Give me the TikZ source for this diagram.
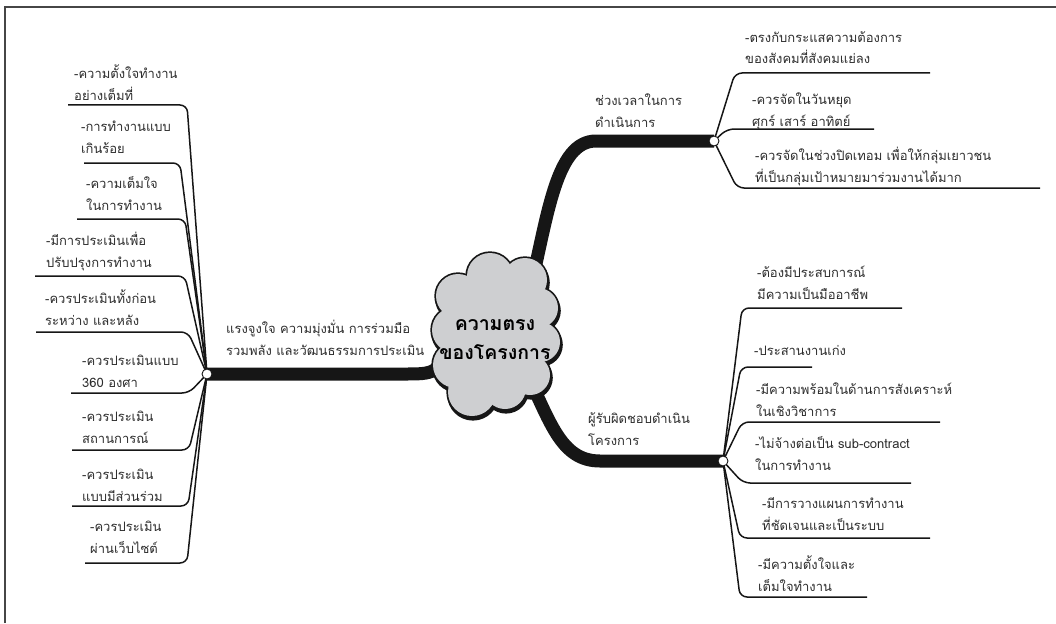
\documentclass[tikz,border=0pt]{standalone}
\usepackage{fontspec}
\newfontfamily\thaifont[Script=Thai]{Loma}
\usetikzlibrary{calc}
\definecolor{cloudgray}{RGB}{206,207,209}
\definecolor{ink}{RGB}{22,22,22}
\definecolor{txt}{RGB}{45,45,45}
\definecolor{framec}{RGB}{70,70,70}
\begin{document}
\begin{tikzpicture}[x=1pt,y=-1pt,
  lbl/.style={anchor=base west,inner sep=0pt,align=left,text=txt,font=\thaifont\fontsize{13}{21.5}\selectfont},
  sub/.style={draw=ink,line width=1.5pt,rounded corners=7pt},
  trunk/.style={draw=ink,line width=13pt},
  hub/.style={circle,draw=ink,line width=0.9pt,fill=white,minimum size=10pt,inner sep=0pt}]
\useasboundingbox (0,0) rectangle (1056,623);
\draw[framec,line width=1.4pt] (5,623) -- (5,7) -- (1056,7);

\coordinate (hL) at (207,374);
\coordinate (hT) at (714,141);
\coordinate (hB) at (723,461);
\coordinate (cc) at (495,335);

% trunks
\draw[trunk] (cc) -- (448,345) .. controls (440,374) and (432,374) .. (405,374) -- (hL);
\draw[trunk] (cc) -- (530,290) .. controls (548,215) and (556,141) .. (596,141) -- (hT);
\draw[trunk] (cc) -- (525,370) .. controls (550,420) and (560,461) .. (600,461) -- (hB);

% cloud
\def\puffs{458/296/22, 490/276/23, 525/280/22, 538/308/20, 540/342/20, 530/375/20, 505/388/21, 472/392/24, 456/365/23, 455/330/23}
\foreach \x/\y/\r in \puffs {\fill[ink] ({\x+1},{\y+2.8}) circle[radius={(\r+1.8)*1pt}];}
\foreach \x/\y/\r in \puffs {\fill[ink] (\x,\y) circle[radius={(\r+1.7)*1pt}];}
\foreach \x/\y/\r in \puffs {\fill[cloudgray] (\x,\y) circle[radius={\r*1pt}];}
\fill[cloudgray] (458,296) -- (490,276) -- (525,280) -- (538,308) -- (540,342) -- (530,375) -- (505,388) -- (472,392) -- (456,365) -- (455,330) -- cycle;
\node[font=\thaifont\bfseries\fontsize{19.5}{29}\selectfont,align=center,text=black,inner sep=0pt] (core) at (495,340) {ความตรง\\ของโครงการ};

% left leaves
\foreach \n/\xs/\xe/\y in {1/68/182/105, 2/84/175/163, 3/77/180/219, 4/35/180/276, 5/36/183/332, 6/71/184/393, 7/72/184/450, 8/72/183/506, 9/85/182/563}{
  \coordinate (la\n) at (\xs,\y);
  \coordinate (lb\n) at ({\xe+5},\y);
  \draw[sub] (la\n) -- (lb\n) -- (hL);
}
% top right leaves
\foreach \n/\xs/\xe/\y in {1/740/930/73, 2/732/874/129, 3/742/1040/188}{
  \coordinate (ta\n) at ({\xs-5},\y);
  \coordinate (tb\n) at (\xe,\y);
  \draw[sub] (hT) -- (ta\n) -- (tb\n);
}
% bottom right leaves
\foreach \n/\xs/\xe/\y in {1/747/902/308, 2/746/812/367, 3/747/940/422, 4/748/911/483, 5/745/930/538, 6/745/867/597}{
  \coordinate (ba\n) at ({\xs-5},\y);
  \coordinate (bb\n) at (\xe,\y);
  \draw[sub] (hB) -- (ba\n) -- (bb\n);
}

% hubs
\node[hub] (hubL) at (hL) {};
\node[hub] (hubT) at (hT) {};
\node[hub] (hubB) at (hB) {};

% branch labels (positions = baseline of last line)
\node[lbl] (mL) at (226,355) {แรงจูงใจ ความมุ่งมั่น การร่วมมือ\\รวมพลัง และวัฒนธรรมการประเมิน};
\node[lbl] (mT) at (595,127) {ช่วงเวลาในการ\\ดำเนินการ};
\node[lbl] (mB) at (588,445) {ผู้รับผิดชอบดำเนิน\\โครงการ};

% left labels
\node[lbl] (l1) at (74,100) {-ความตั้งใจทำงาน\\อย่างเต็มที่};
\node[lbl] (l2) at (81,153) {-การทำงานแบบ\\เกินร้อย};
\node[lbl] (l3) at (86,210) {-ความเต็มใจ\\ในการทำงาน};
\node[lbl] (l4) at (46,267) {-มีการประเมินเพื่อ\\ปรับปรุงการทำงาน};
\node[lbl] (l5) at (45,325) {-ควรประเมินทั้งก่อน\\ระหว่าง และหลัง};
\node[lbl] (l6) at (82,387) {-ควรประเมินแบบ\\360 องศา};
\node[lbl] (l7) at (82,443) {-ควรประเมิน\\สถานการณ์};
\node[lbl] (l8) at (82,501) {-ควรประเมิน\\แบบมีส่วนร่วม};
\node[lbl] (l9) at (90,553) {-ควรประเมิน\\ผ่านเว็บไซต์};

% top right labels
\node[lbl] (t1) at (745,64) {-ตรงกับกระแสความต้องการ\\ของสังคมที่สังคมแย่ลง};
\node[lbl] (t2) at (752,126) {-ควรจัดในวันหยุด\\ศุกร์ เสาร์ อาทิตย์};
\node[lbl] (t3) at (755,182) {-ควรจัดในช่วงปิดเทอม เพื่อให้กลุ่มเยาวชน\\ที่เป็นกลุ่มเป้าหมายมาร่วมงานได้มาก};

% bottom right labels
\node[lbl] (b1) at (757,299) {-ต้องมีประสบการณ์\\มีความเป็นมืออาชีพ};
\node[lbl] (b2) at (754,355) {-ประสานงานเก่ง};
\node[lbl] (b3) at (756,416) {-มีความพร้อมในด้านการสังเคราะห์\\ในเชิงวิชาการ};
\node[lbl] (b4) at (755,470) {-ไม่จ้างต่อเป็น sub-contract\\ในการทำงาน};
\node[lbl] (b5) at (762,530) {-มีการวางแผนการทำงาน\\ที่ชัดเจนและเป็นระบบ};
\node[lbl] (b6) at (758,591) {-มีความตั้งใจและ\\เต็มใจทำงาน};
\end{tikzpicture}
\end{document}
